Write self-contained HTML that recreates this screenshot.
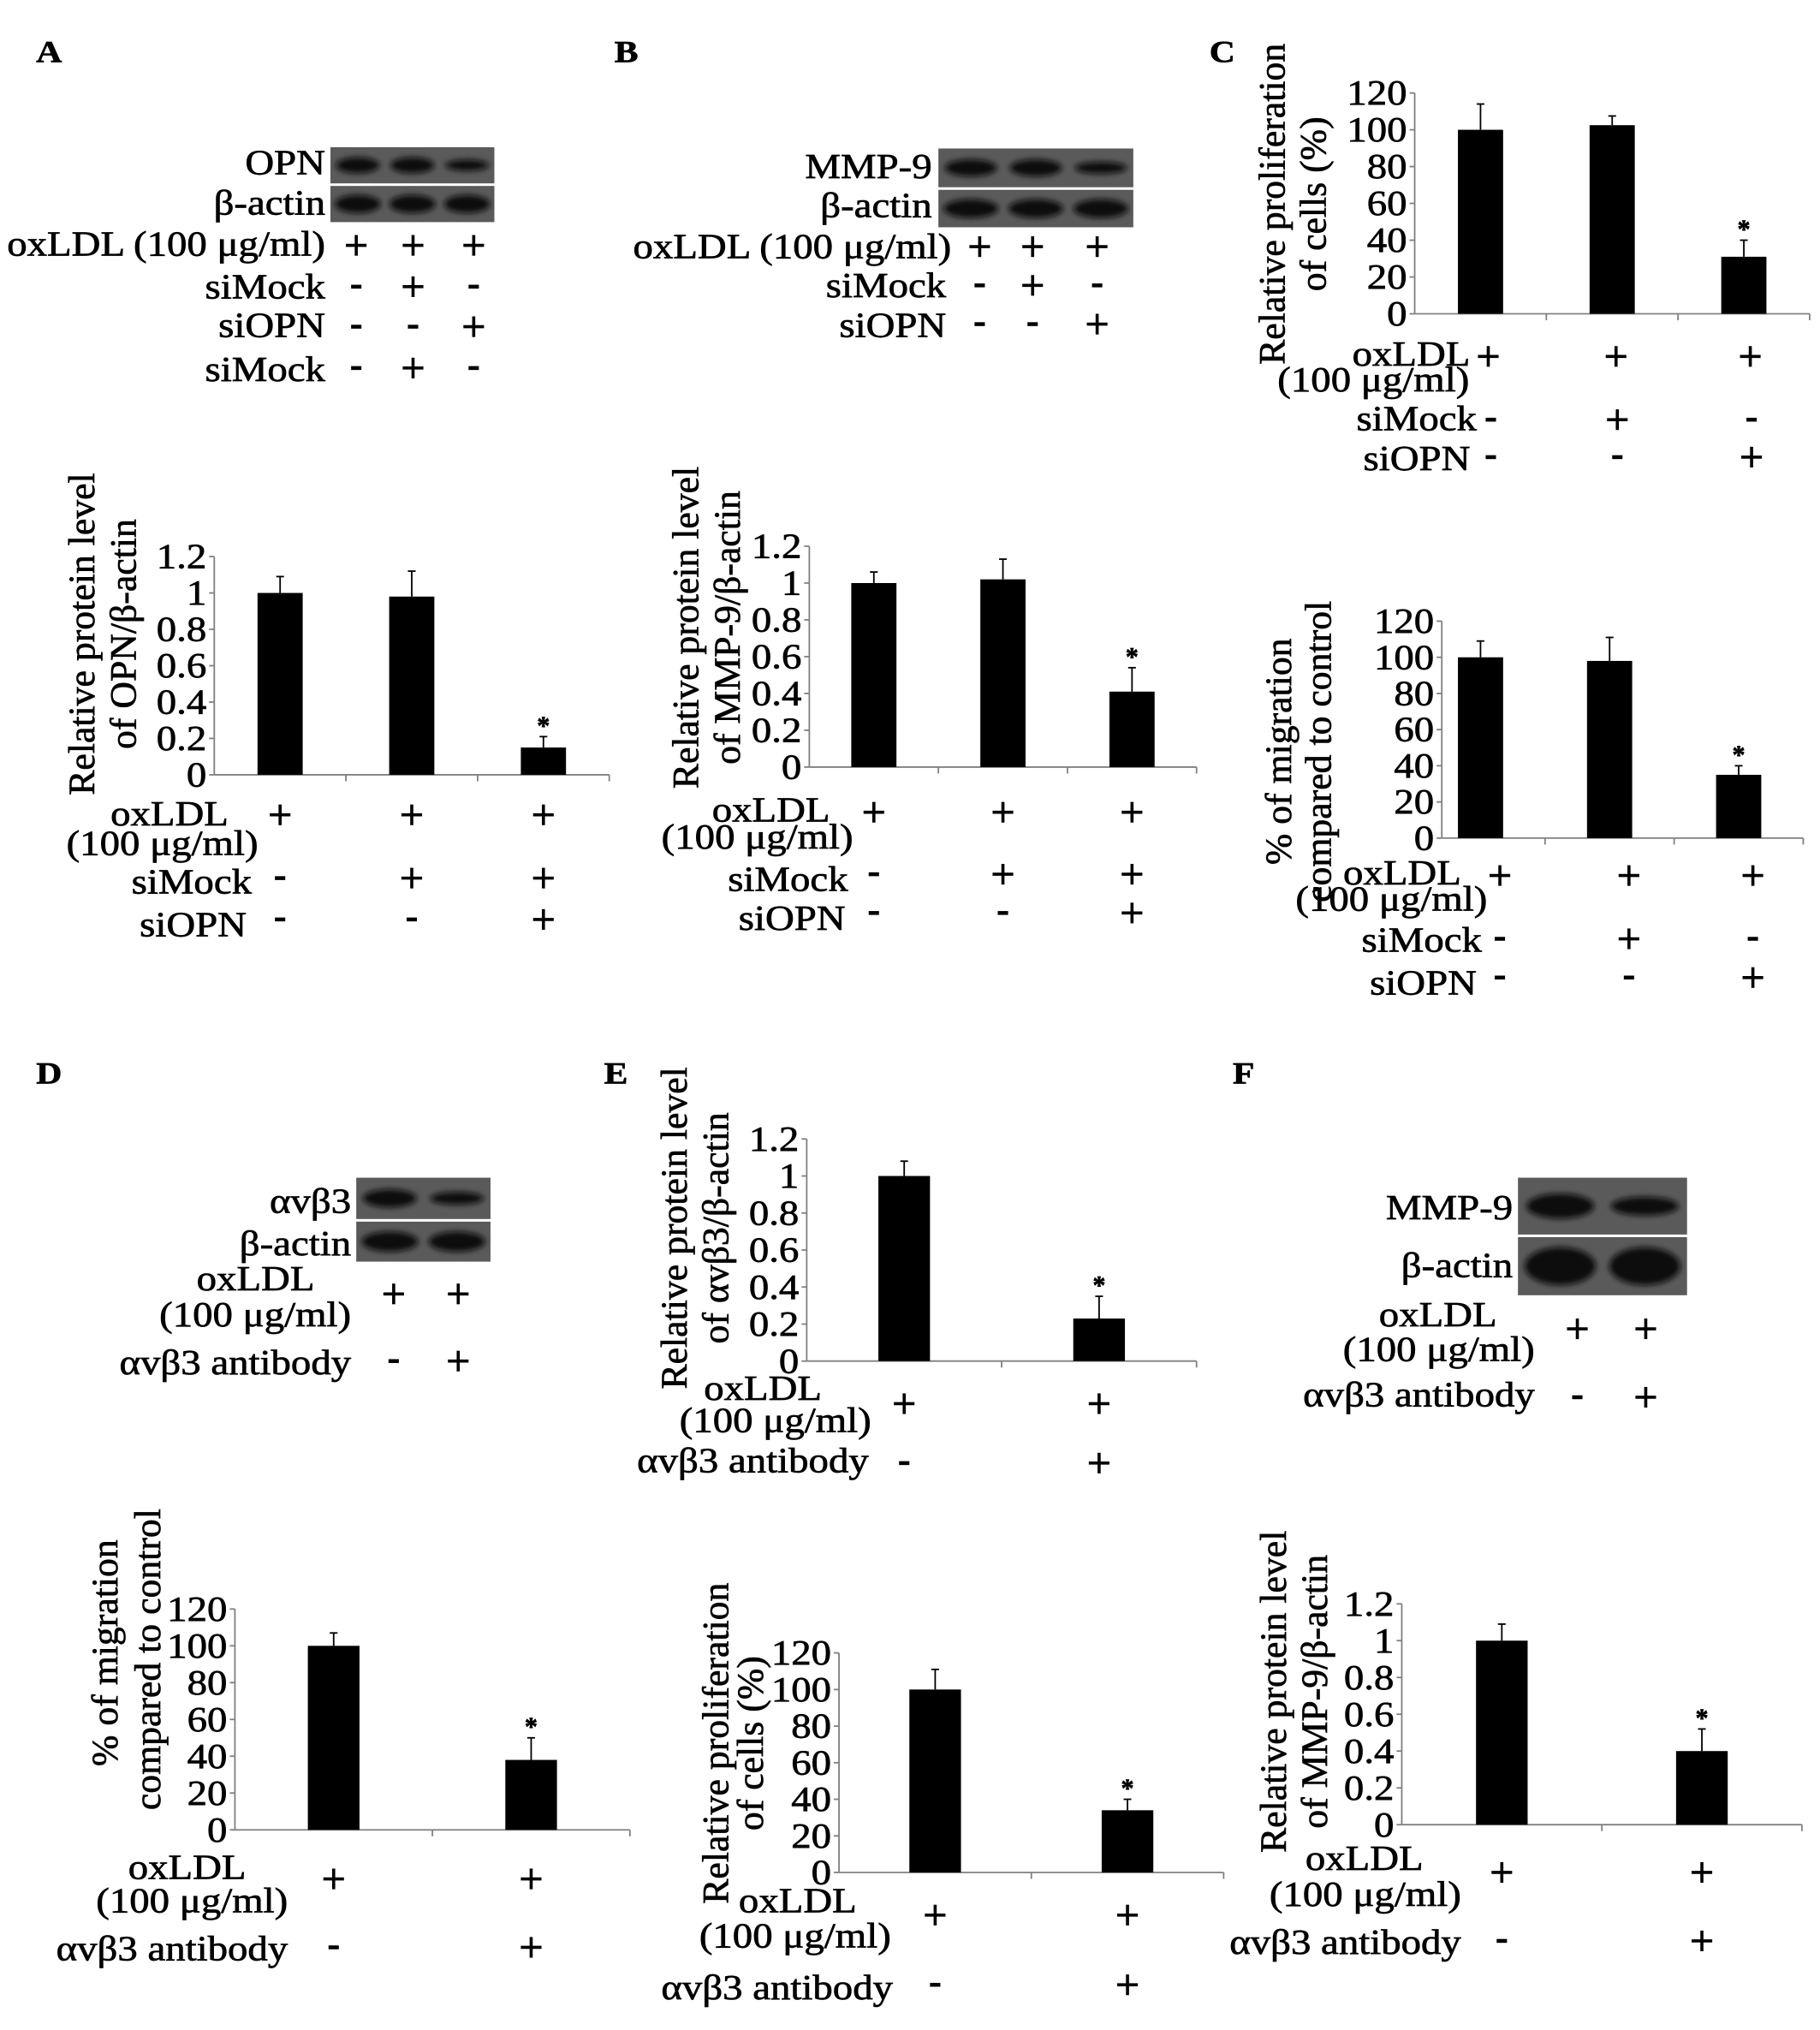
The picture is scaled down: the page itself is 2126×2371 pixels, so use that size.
<!DOCTYPE html>
<html><head><meta charset="utf-8"><title>Figure panels A–F</title>
<style>
html,body{margin:0;padding:0;background:#fff;}
svg{display:block;}
text{font-family:"Liberation Serif","DejaVu Serif",serif;fill:#000;stroke:#000;stroke-width:0.45px;}
</style></head>
<body>
<svg id="fig" xmlns="http://www.w3.org/2000/svg" width="2126" height="2371" viewBox="0 0 1410 1572" preserveAspectRatio="none">
<defs>
<filter id="blur" x="-20%" y="-50%" width="140%" height="200%"><feGaussianBlur stdDeviation="2.2"/></filter>
</defs>
<rect x="0" y="0" width="1410" height="1572" fill="#fff"/>
</svg>
<script>
// ---- chart data ----
const aCats = ['ctrl', 'siMock', 'siOPN'];
const aVals = [1.0, 0.98, 0.15];
const aErr = [0.09, 0.14, 0.06];
const aSig = [false, false, true];
const ticks12 = ['0', '0.2', '0.4', '0.6', '0.8', '1', '1.2'];
const ticks120 = ['0', '20', '40', '60', '80', '100', '120'];

const bCats = ['ctrl', 'siMock', 'siOPN'];
const bVals = [1.0, 1.02, 0.41];
const bErr = [0.06, 0.11, 0.13];
const bSig = [false, false, true];

const cProlCats = ['ctrl', 'siMock', 'siOPN'];
const cProlVals = [100, 102.5, 31];
const cProlErr = [14, 5, 9];
const cProlSig = [false, false, true];

const cMigCats = ['ctrl', 'siMock', 'siOPN'];
const cMigVals = [100, 98, 35];
const cMigErr = [9, 13, 5];
const cMigSig = [false, false, true];

const dCats = ['ctrl', 'antibody'];
const dVals = [100, 38];
const dErr = [7, 12];
const dSig = [false, true];

const eProtCats = ['ctrl', 'antibody'];
const eProtVals = [1.0, 0.23];
const eProtErr = [0.08, 0.12];
const eProtSig = [false, true];

const eProlCats = ['ctrl', 'antibody'];
const eProlVals = [100, 34];
const eProlErr = [11, 6];
const eProlSig = [false, true];

const fCats = ['ctrl', 'antibody'];
const fVals = [1.0, 0.40];
const fErr = [0.09, 0.12];
const fSig = [false, true];

// ---- helpers ----
const NS = 'http://www.w3.org/2000/svg';
const svg = document.getElementById('fig');
function el(tag, attrs, parent) {
  const e = document.createElementNS(NS, tag);
  for (const k in attrs) e.setAttribute(k, attrs[k]);
  (parent || svg).appendChild(e);
  return e;
}
function txt(x, y, s, name, anchor, size, bold, parent) {
  const g = el('g', {transform: 'translate(' + x + ',' + y + ') scale(1.15,1)'}, parent);
  const t = el('text', {x: 0, y: 0, 'text-anchor': anchor || 'start', 'font-size': size || 27, 'font-weight': bold ? 'bold' : 'normal'}, g);
  t.textContent = s;
  
  
  return t;
}
function rtxt(x, y, s, name, size, parent) {
  const t = el('text', {x: 0, y: 0, 'text-anchor': 'middle', 'font-size': size || 29, transform: 'translate(' + x + ',' + y + ') rotate(-90)'}, parent);
  t.textContent = s;
  
  
  return t;
}
function sign(x, yc, s, name) {
  const g = el('g', {});
  
  
  if (s === '+') {
    el('line', {x1: x - 8, y1: yc, x2: x + 8, y2: yc, stroke: '#000', 'stroke-width': 2.4}, g);
    el('line', {x1: x, y1: yc - 8, x2: x, y2: yc + 8, stroke: '#000', 'stroke-width': 2.4}, g);
  } else {
    el('line', {x1: x - 4, y1: yc, x2: x + 4, y2: yc, stroke: '#000', 'stroke-width': 3}, g);
  }
}
function signRow(xs, yc, signs, name) {
  for (let i = 0; i < xs.length; i++) sign(xs[i], yc, signs[i], name + '-' + (i + 1));
}

function barChart(name, L, cats, vals, errs, sig, tickLabels) {
  const g = el('g', {});
  
  
  const max = parseFloat(tickLabels[tickLabels.length - 1]);
  const yScale = v => L.y0 - (v / max) * (L.y0 - L.yTop);
  const xScale = i => L.x0 + L.cat * (i + 0.5);
  const ax = (L.axisX !== undefined) ? L.axisX : L.x0;
  const xEnd = L.x0 + L.cat * cats.length;
  const ya = el('line', {x1: ax, y1: L.yTop, x2: ax, y2: L.y0, stroke: '#808080', 'stroke-width': 1.2}, g);
  
  
  const xa = el('line', {x1: ax, y1: L.y0, x2: xEnd, y2: L.y0, stroke: '#808080', 'stroke-width': 1.2}, g);
  
  
  for (let i = 0; i < tickLabels.length; i++) {
    const v = parseFloat(tickLabels[i]);
    const y = yScale(v);
    el('line', {x1: ax - 4, y1: y, x2: ax, y2: y, stroke: '#808080', 'stroke-width': 1.2}, g);
    txt(ax - 6, y + 9, tickLabels[i], 'y-tick-label', 'end', 27, false, g);
  }
  for (let i = 1; i <= cats.length; i++) {
    const x = L.x0 + L.cat * i;
    el('line', {x1: x, y1: L.y0, x2: x, y2: L.y0 + 5, stroke: '#808080', 'stroke-width': 1.2}, g);
  }
  for (let i = 0; i < cats.length; i++) {
    const cx = xScale(i);
    const top = yScale(vals[i]);
    const r = el('rect', {x: cx - L.bw / 2, y: top, width: L.bw, height: L.y0 - top, fill: '#000'}, g);
    
    
    const et = yScale(vals[i] + errs[i]);
    const e1 = el('line', {x1: cx, y1: top, x2: cx, y2: et, stroke: '#000', 'stroke-width': 1.2}, g);
    
    
    el('line', {x1: cx - 3, y1: et, x2: cx + 3, y2: et, stroke: '#000', 'stroke-width': 1.2}, g);
    if (sig[i]) {
      const s = el('text', {x: cx, y: et - 2, 'text-anchor': 'middle', 'font-size': 20, 'font-weight': 'bold'}, g);
      s.textContent = '*';
      
      
    }
  }
  return {xScale};
}

function blot(name, x, y, w, h1, h2, bandsTop, bandsBot) {
  const g = el('g', {});
  
  
  el('rect', {x: x, y: y, width: w, height: h1, fill: '#5a5a5a'}, g);
  el('rect', {x: x, y: y + h1 + 2, width: w, height: h2, fill: '#5a5a5a'}, g);
  const n = bandsTop.length;
  const lw = w / n;
  for (let i = 0; i < n; i++) {
    const cx = x + lw * (i + 0.5);
    el('ellipse', {cx: cx, cy: y + h1 / 2, rx: lw * 0.4, ry: h1 * 0.22 * bandsTop[i], fill: '#111', filter: 'url(#blur)'}, g);
    el('ellipse', {cx: cx, cy: y + h1 + 2 + h2 / 2, rx: lw * 0.42, ry: h2 * 0.25 * bandsBot[i], fill: '#111', filter: 'url(#blur)'}, g);
  }
}

// ===== Panel A =====
txt(28, 48, 'A', 'panel-label-a', 'start', 24, true);
blot('western-blot-a', 256, 114, 127, 28, 28, [1, 1, 0.7], [1, 1, 1]);
txt(252, 135, 'OPN', 'blot-label-opn', 'end');
txt(252, 166, 'β-actin', 'blot-label-actin', 'end');
txt(252, 198, 'oxLDL (100 μg/ml)', 'row-label-oxldl', 'end');
signRow([276, 320, 367], 190, ['+', '+', '+'], 'sign-a-oxldl');
txt(252, 231, 'siMock', 'row-label-simock', 'end');
signRow([276, 320, 367], 222, ['-', '+', '-'], 'sign-a-simock');
txt(252, 261, 'siOPN', 'row-label-siopn', 'end');
signRow([276, 320, 367], 253, ['-', '-', '+'], 'sign-a-siopn');
txt(252, 295, 'siMock', 'row-label-simock-2', 'end');
signRow([276, 320, 367], 285, ['-', '+', '-'], 'sign-a-simock-2');
const chA = barChart('chart-a-opn', {x0: 166, cat: 102, y0: 600, yTop: 431, bw: 35}, aCats, aVals, aErr, aSig, ticks12);
rtxt(73, 491, 'Relative protein level', 'y-axis-title-a');
rtxt(105, 491, 'of OPN/β-actin', 'y-axis-title-a-2');
txt(177, 639, 'oxLDL', 'x-label-oxldl-a', 'end');
txt(200, 662, '(100 μg/ml)', 'x-label-conc-a', 'end');
txt(195, 692, 'siMock', 'x-label-simock-a', 'end');
txt(191, 725, 'siOPN', 'x-label-siopn-a', 'end');
signRow([0, 1, 2].map(chA.xScale), 631, ['+', '+', '+'], 'x-sign-a-oxldl');
signRow([0, 1, 2].map(chA.xScale), 680, ['-', '+', '+'], 'x-sign-a-simock');
signRow([0, 1, 2].map(chA.xScale), 712, ['-', '-', '+'], 'x-sign-a-siopn');

// ===== Panel B =====
txt(476, 48, 'B', 'panel-label-b', 'start', 24, true);
blot('western-blot-b', 727, 115, 151, 30, 29, [1, 1, 0.7], [1, 1, 1]);
txt(722, 138, 'MMP-9', 'blot-label-mmp9', 'end');
txt(722, 168, 'β-actin', 'blot-label-actin-b', 'end');
txt(737, 200, 'oxLDL (100 μg/ml)', 'row-label-oxldl-b', 'end');
signRow([759, 800, 850], 191, ['+', '+', '+'], 'sign-b-oxldl');
txt(733, 230, 'siMock', 'row-label-simock-b', 'end');
signRow([759, 800, 850], 221, ['-', '+', '-'], 'sign-b-simock');
txt(733, 261, 'siOPN', 'row-label-siopn-b', 'end');
signRow([759, 800, 850], 251, ['-', '-', '+'], 'sign-b-siopn');
const chB = barChart('chart-b-mmp9', {x0: 627, cat: 100, y0: 594, yTop: 423, bw: 35}, bCats, bVals, bErr, bSig, ticks12);
rtxt(541, 486, 'Relative protein level', 'y-axis-title-b');
rtxt(573, 486, 'of MMP-9/β-actin', 'y-axis-title-b-2');
txt(643, 636, 'oxLDL', 'x-label-oxldl-b', 'end');
txt(661, 657, '(100 μg/ml)', 'x-label-conc-b', 'end');
txt(657, 690, 'siMock', 'x-label-simock-b', 'end');
txt(655, 720, 'siOPN', 'x-label-siopn-b', 'end');
signRow([0, 1, 2].map(chB.xScale), 629, ['+', '+', '+'], 'x-sign-b-oxldl');
signRow([0, 1, 2].map(chB.xScale), 677, ['-', '+', '+'], 'x-sign-b-simock');
signRow([0, 1, 2].map(chB.xScale), 707, ['-', '-', '+'], 'x-sign-b-siopn');

// ===== Panel C (proliferation) =====
txt(937, 48, 'C', 'panel-label-c', 'start', 24, true);
const chC1 = barChart('chart-c-proliferation', {x0: 1096, cat: 102, y0: 243, yTop: 72, bw: 35}, cProlCats, cProlVals, cProlErr, cProlSig, ticks120);
rtxt(995, 158, 'Relative proliferation', 'y-axis-title-c1');
rtxt(1027, 158, 'of cells (%)', 'y-axis-title-c1-2');
txt(1139, 283, 'oxLDL', 'x-label-oxldl-c1', 'end');
txt(1064, 303, '(100 μg/ml)', 'x-label-conc-c1', 'middle');
txt(1144, 333, 'siMock', 'x-label-simock-c1', 'end');
txt(1139, 364, 'siOPN', 'x-label-siopn-c1', 'end');
signRow([1153, 1252, 1356], 276, ['+', '+', '+'], 'x-sign-c1-oxldl');
signRow([1155, 1253, 1357], 325, ['-', '+', '-'], 'x-sign-c1-simock');
signRow([1155, 1253, 1357], 354, ['-', '-', '+'], 'x-sign-c1-siopn');

// ===== Panel C (migration) =====
const chC2 = barChart('chart-c-migration', {x0: 1097, axisX: 1117, cat: 100, y0: 649, yTop: 481, bw: 35}, cMigCats, cMigVals, cMigErr, cMigSig, ticks120);
rtxt(1000, 582, '% of migration', 'y-axis-title-c2');
rtxt(1031, 582, 'compared to control', 'y-axis-title-c2-2');
txt(1132, 685, 'oxLDL', 'x-label-oxldl-c2', 'end');
txt(1078, 705, '(100 μg/ml)', 'x-label-conc-c2', 'middle');
txt(1148, 737, 'siMock', 'x-label-simock-c2', 'end');
txt(1144, 770, 'siOPN', 'x-label-siopn-c2', 'end');
signRow([1162, 1262, 1358], 678, ['+', '+', '+'], 'x-sign-c2-oxldl');
signRow([1162, 1262, 1358], 727, ['-', '+', '-'], 'x-sign-c2-simock');
signRow([1162, 1262, 1358], 757, ['-', '-', '+'], 'x-sign-c2-siopn');

// ===== Panel D =====
txt(28, 839, 'D', 'panel-label-d', 'start', 24, true);
blot('western-blot-d', 276, 912, 104, 32, 31, [1, 0.7], [1, 1]);
txt(272, 939, 'αvβ3', 'blot-label-avb3', 'end');
txt(272, 972, 'β-actin', 'blot-label-actin-d', 'end');
txt(198, 999, 'oxLDL', 'row-label-oxldl-d', 'middle');
txt(272, 1027, '(100 μg/ml)', 'row-label-conc-d', 'end');
signRow([305, 355], 1002, ['+', '+'], 'sign-d-oxldl');
txt(272, 1064, 'αvβ3 antibody', 'row-label-antibody-d', 'end');
signRow([305, 355], 1054, ['-', '+'], 'sign-d-antibody');
const chD = barChart('chart-d-migration', {x0: 182, cat: 153, y0: 1417, yTop: 1246, bw: 40}, dCats, dVals, dErr, dSig, ticks120);
rtxt(91, 1280, '% of migration', 'y-axis-title-d');
rtxt(124, 1285, 'compared to control', 'y-axis-title-d-2');
txt(145, 1455, 'oxLDL', 'x-label-oxldl-d', 'middle');
txt(223, 1481, '(100 μg/ml)', 'x-label-conc-d', 'end');
txt(223, 1518, 'αvβ3 antibody', 'x-label-antibody-d', 'end');
signRow([0, 1].map(chD.xScale), 1455, ['+', '+'], 'x-sign-d-oxldl');
signRow([0, 1].map(chD.xScale), 1508, ['-', '+'], 'x-sign-d-antibody');

// ===== Panel E (protein) =====
txt(468, 839, 'E', 'panel-label-e', 'start', 24, true);
const chE1 = barChart('chart-e-protein', {x0: 625, cat: 151, y0: 1054, yTop: 882, bw: 40}, eProtCats, eProtVals, eProtErr, eProtSig, ticks12);
rtxt(532, 951, 'Relative protein level', 'y-axis-title-e1');
rtxt(564, 951, 'of αvβ3/β-actin', 'y-axis-title-e1-2');
txt(591, 1084, 'oxLDL', 'x-label-oxldl-e1', 'middle');
txt(675, 1109, '(100 μg/ml)', 'x-label-conc-e1', 'end');
txt(673, 1140, 'αvβ3 antibody', 'x-label-antibody-e1', 'end');
signRow([0, 1].map(chE1.xScale), 1087, ['+', '+'], 'x-sign-e1-oxldl');
signRow([0, 1].map(chE1.xScale), 1133, ['-', '+'], 'x-sign-e1-antibody');

// ===== Panel E (proliferation) =====
const chE2 = barChart('chart-e-proliferation', {x0: 650, cat: 149, y0: 1450, yTop: 1280, bw: 40}, eProlCats, eProlVals, eProlErr, eProlSig, ticks120);
rtxt(564, 1350, 'Relative proliferation', 'y-axis-title-e2');
rtxt(591, 1350, 'of cells (%)', 'y-axis-title-e2-2');
txt(618, 1481, 'oxLDL', 'x-label-oxldl-e2', 'middle');
txt(616, 1508, '(100 μg/ml)', 'x-label-conc-e2', 'middle');
txt(602, 1548, 'αvβ3 antibody', 'x-label-antibody-e2', 'middle');
signRow([0, 1].map(chE2.xScale), 1483, ['+', '+'], 'x-sign-e2-oxldl');
signRow([0, 1].map(chE2.xScale), 1537, ['-', '+'], 'x-sign-e2-antibody');

// ===== Panel F =====
txt(955, 839, 'F', 'panel-label-f', 'start', 24, true);
blot('western-blot-f', 1176, 912, 131, 44, 45, [1, 0.75], [1.3, 1.3]);
txt(1172, 944, 'MMP-9', 'blot-label-mmp9-f', 'end');
txt(1172, 989, 'β-actin', 'blot-label-actin-f', 'end');
txt(1114, 1027, 'oxLDL', 'row-label-oxldl-f', 'middle');
txt(1189, 1054, '(100 μg/ml)', 'row-label-conc-f', 'end');
signRow([1222, 1275], 1029, ['+', '+'], 'sign-f-oxldl');
txt(1189, 1089, 'αvβ3 antibody', 'row-label-antibody-f', 'end');
signRow([1222, 1275], 1082, ['-', '+'], 'sign-f-antibody');
const chF = barChart('chart-f-mmp9', {x0: 1086, cat: 155, y0: 1413, yTop: 1242, bw: 40}, fCats, fVals, fErr, fSig, ticks12);
rtxt(996, 1310, 'Relative protein level', 'y-axis-title-f');
rtxt(1028, 1310, 'of MMP-9/β-actin', 'y-axis-title-f-2');
txt(1057, 1448, 'oxLDL', 'x-label-oxldl-f', 'middle');
txt(1132, 1476, '(100 μg/ml)', 'x-label-conc-f', 'end');
txt(1132, 1513, 'αvβ3 antibody', 'x-label-antibody-f', 'end');
signRow([0, 1].map(chF.xScale), 1450, ['+', '+'], 'x-sign-f-oxldl');
signRow([0, 1].map(chF.xScale), 1503, ['-', '+'], 'x-sign-f-antibody');
</script>
</body></html>
